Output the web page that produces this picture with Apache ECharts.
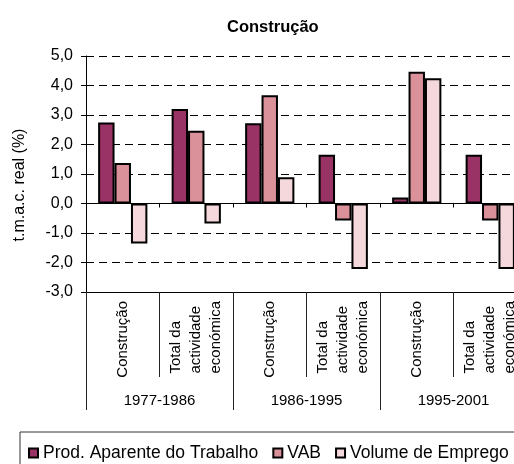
<!DOCTYPE html>
<html><head><meta charset="utf-8">
<script src="https://cdn.jsdelivr.net/npm/echarts@6/dist/echarts.min.js"></script>
<style>html,body{margin:0;padding:0;background:#fff}#c{width:514px;height:464px}</style>
</head><body><div id="c"></div>
<script>
const chartTitle = 'Construção';
const yAxisName = 't.m.a.c. real (%)';
const categories = ['Construção', 'Total da\nactividade\neconómica', 'Construção', 'Total da\nactividade\neconómica', 'Construção', 'Total da\nactividade\neconómica'];
const periods = ['1977-1986', '1986-1995', '1995-2001'];
const seriesNames = ['Prod. Aparente do Trabalho', 'VAB', 'Volume de Emprego'];
const prodTrabalho = [2.75, 3.2, 2.72, 1.65, 0.2, 1.65];
const vab = [1.37, 2.47, 3.67, -0.58, 4.47, -0.58];
const emprego = [-1.36, -0.68, 0.89, -2.22, 4.25, -2.22];
const yMin = -3, yMax = 5, yStep = 1;

const FONT = 'Liberation Sans, Arial, sans-serif';
const colors = ['#993366', '#DB9199', '#F5D8DC'];
const values = [prodTrabalho, vab, emprego];

const chart = echarts.init(document.getElementById('c'), null, {renderer: 'canvas'});
chart.setOption({
  animation: false,
  backgroundColor: '#fff',
  textStyle: {fontFamily: FONT, color: '#000'},
  title: {
    text: chartTitle, left: 227, top: 19, padding: 0,
    textStyle: {fontFamily: FONT, fontSize: 16.5, fontWeight: 'bold', color: '#000'}
  },
  legend: {
    data: seriesNames, left: 20, top: 432, width: 495, orient: 'horizontal',
    padding: [12, 6, 30, 8], itemGap: 14, itemWidth: 9, itemHeight: 9,
    icon: 'rect', borderColor: '#333', borderWidth: 1,
    textStyle: {fontFamily: FONT, fontSize: 17.5, color: '#000'}
  },
  grid: {left: 86, top: 56, width: 441, height: 236, containLabel: false, outerBoundsMode: 'none'},
  xAxis: [
    {
      type: 'category', data: categories, position: 'bottom', gridIndex: 0,
      axisLine: {show: true, onZero: true, lineStyle: {color: '#000', width: 1}},
      axisTick: {show: true, length: 4, interval: 0, lineStyle: {color: '#000'}},
      axisLabel: {show: false}, splitLine: {show: false}
    },
    {
      type: 'category', data: categories, position: 'bottom', gridIndex: 0,
      axisLine: {show: true, onZero: false, lineStyle: {color: '#000', width: 1}},
      axisTick: {show: true, length: 85, interval: 0, lineStyle: {color: '#222'}},
      axisLabel: {
        show: true, interval: 0, rotate: 90, margin: 9,
        formatter: v => v.split('\n').map(s => '{a|' + s + '}').join('\n'),
        rich: {a: {align: 'left', fontFamily: FONT, fontSize: 15, lineHeight: 20, color: '#000'}}
      },
      splitLine: {show: false}
    },
    {
      type: 'category', data: periods, position: 'bottom', gridIndex: 0,
      axisLine: {show: false, onZero: false},
      axisTick: {show: true, length: 118, interval: 0, lineStyle: {color: '#222'}},
      axisLabel: {show: true, interval: 0, margin: 101, fontFamily: FONT, fontSize: 15, color: '#000'},
      splitLine: {show: false}
    }
  ],
  yAxis: {
    type: 'value', min: yMin, max: yMax, interval: yStep,
    name: yAxisName, nameLocation: 'middle', nameGap: 58, nameRotate: 90,
    nameTextStyle: {fontFamily: FONT, fontSize: 16, color: '#000', padding: [0, 22, 0, 0]},
    axisLine: {show: true, lineStyle: {color: '#000', width: 1}},
    axisTick: {show: true, length: 5, lineStyle: {color: '#000'}},
    axisLabel: {margin: 13, fontFamily: FONT, fontSize: 16, color: '#000',
      formatter: v => v.toFixed(1).replace('.', ',')},
    splitLine: {show: true, lineStyle: {color: '#000', width: 1, type: [8, 5]}}
  },
  series: seriesNames.map((n, i) => ({
    name: n, type: 'bar', xAxisIndex: 0, yAxisIndex: 0,
    data: values[i], barGap: '0%', barCategoryGap: '33%',
    itemStyle: {color: colors[i], borderColor: '#000', borderWidth: 2},
    z: 3
  }))
});
</script></body></html>
